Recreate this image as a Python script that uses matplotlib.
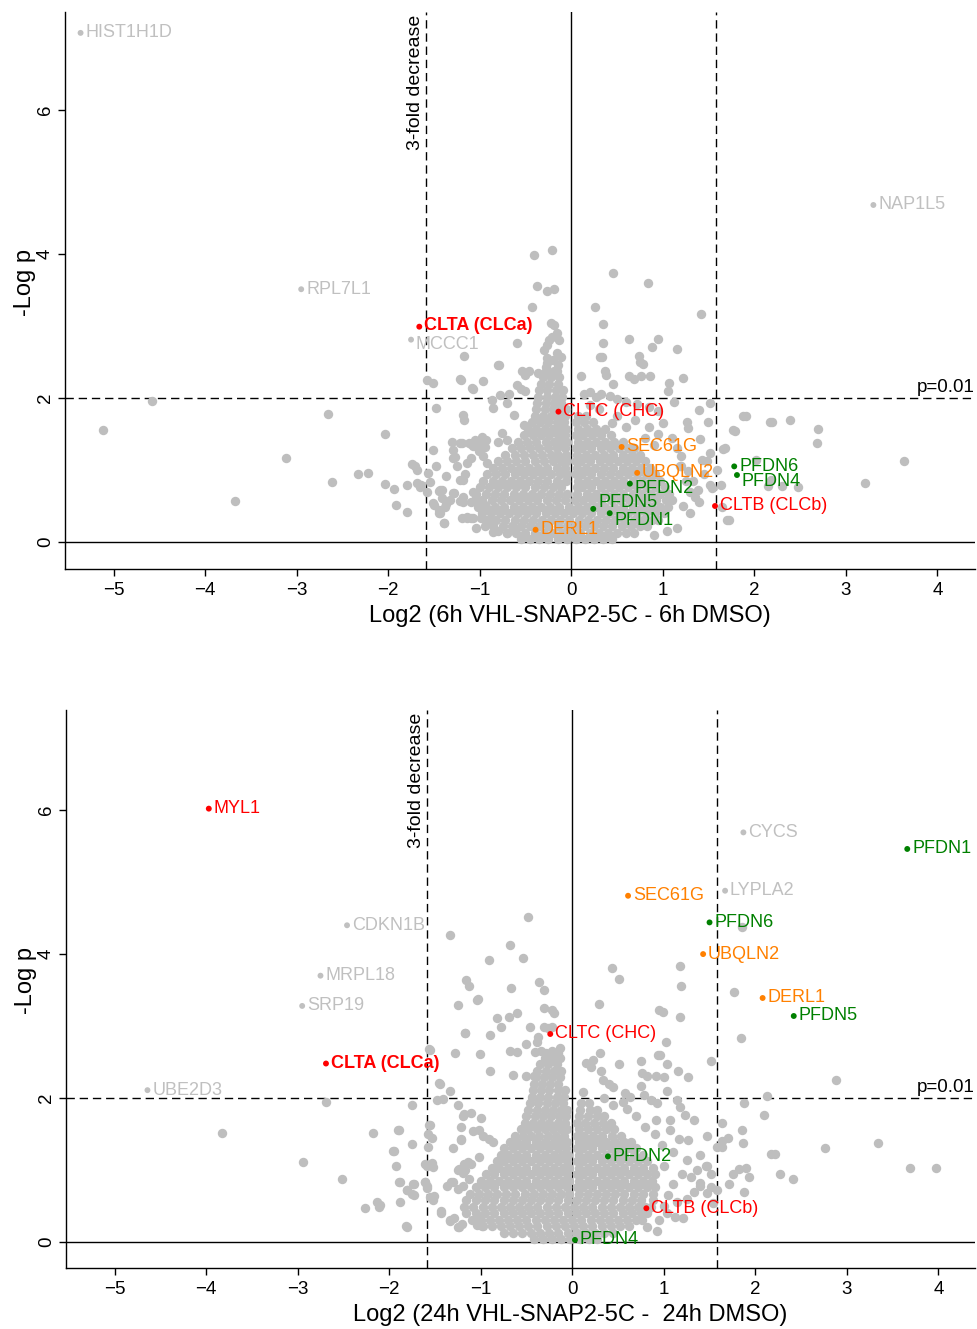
import matplotlib
matplotlib.use('Agg')
import matplotlib.pyplot as plt
import numpy as np

plt.rcParams['font.family'] = ['Liberation Sans', 'DejaVu Sans']

GRAY = '#bebebe'
LABEL_GRAY = '#c0c0c0'
COLMAP = {'gray': LABEL_GRAY, 'red': '#ff0000', 'orange': '#ff8000', 'green': '#008000'}

FOLD = np.log2(3)
P_LINE = -np.log10(0.01)

# ---------------- 6h panel data ----------------
top_cloud_y = [0.04, 0.13, 0.22, 0.31, 0.40, 0.49, 0.58, 0.67, 0.76, 0.85, 0.94, 1.03, 1.12,
               1.21, 1.30, 1.39, 1.48, 1.57, 1.66, 1.75, 1.84, 1.93, 2.02, 2.11, 2.20, 2.29, 2.38]
top_cloud_x = [
    [-0.55, -0.45, -0.35, -0.25, -0.15, -0.05, 0.05, 0.15, 0.25, 0.35, 0.45],
    [-0.7, -0.6, -0.5, -0.4, -0.3, -0.2, -0.1, 0.0, 0.1, 0.2, 0.3, 0.4, 0.5, 0.6, 0.68],
    [-0.85, -0.75, -0.65, -0.55, -0.45, -0.35, -0.25, -0.15, -0.05, 0.05, 0.15, 0.25, 0.35, 0.45, 0.55, 0.65, 0.75, 0.83],
    [-0.92, -0.82, -0.72, -0.62, -0.52, -0.42, -0.32, -0.22, -0.12, -0.02, 0.08, 0.18, 0.28, 0.38, 0.48, 0.58, 0.68, 0.78, 0.88, 0.95],
    [-0.98, -0.88, -0.78, -0.68, -0.58, -0.48, -0.38, -0.28, -0.18, -0.08, 0.02, 0.12, 0.22, 0.32, 0.42, 0.52, 0.62, 0.72, 0.82, 0.92, 1.01],
    [-1.02, -0.93, -0.83, -0.73, -0.63, -0.53, -0.43, -0.33, -0.23, -0.13, -0.03, 0.07, 0.17, 0.27, 0.37, 0.47, 0.57, 0.67, 0.77, 0.87, 0.97, 1.06],
    [-1.05, -0.97, -0.87, -0.77, -0.67, -0.57, -0.47, -0.37, -0.27, -0.17, -0.07, 0.04, 0.13, 0.23, 0.33, 0.43, 0.53, 0.63, 0.73, 0.83, 0.93, 1.03, 1.1],
    [-1.04, -0.93, -0.83, -0.73, -0.63, -0.53, -0.43, -0.33, -0.23, -0.13, -0.05, 0.06, 0.17, 0.27, 0.37, 0.47, 0.57, 0.67, 0.77, 0.87, 0.97, 1.07],
    [-1.0, -0.9, -0.8, -0.7, -0.6, -0.5, -0.4, -0.3, -0.2, -0.11, 0.06, 0.12, 0.22, 0.32, 0.42, 0.52, 0.62, 0.72, 0.82, 0.92, 1.02],
    [-0.96, -0.86, -0.76, -0.66, -0.56, -0.46, -0.36, -0.26, -0.16, -0.06, 0.07, 0.17, 0.27, 0.37, 0.47, 0.57, 0.67, 0.77, 0.87, 0.97],
    [-0.92, -0.82, -0.72, -0.62, -0.52, -0.42, -0.32, -0.22, -0.12, -0.05, 0.05, 0.12, 0.22, 0.32, 0.42, 0.52, 0.62, 0.72, 0.82, 0.92],
    [-0.86, -0.76, -0.66, -0.56, -0.46, -0.36, -0.26, -0.16, -0.07, 0.06, 0.16, 0.26, 0.36, 0.46, 0.56, 0.66, 0.76, 0.86],
    [-0.8, -0.7, -0.6, -0.5, -0.4, -0.3, -0.2, -0.11, -0.05, 0.05, 0.11, 0.21, 0.31, 0.41, 0.51, 0.61, 0.71, 0.8],
    [-0.72, -0.62, -0.52, -0.42, -0.32, -0.22, -0.14, -0.06, 0.06, 0.16, 0.26, 0.36, 0.46, 0.56, 0.66, 0.75],
    [-0.65, -0.55, -0.45, -0.35, -0.25, -0.16, -0.07, 0.05, 0.12, 0.22, 0.32, 0.42, 0.52, 0.62, 0.69],
    [-0.58, -0.48, -0.38, -0.28, -0.19, -0.11, -0.05, 0.07, 0.17, 0.27, 0.37, 0.47, 0.56],
    [-0.52, -0.42, -0.33, -0.24, -0.15, -0.07, 0.05, 0.13, 0.23, 0.33, 0.43],
    [-0.47, -0.38, -0.29, -0.2, -0.12, -0.06, 0.07, 0.17, 0.27, 0.37],
    [-0.43, -0.34, -0.25, -0.16, -0.08, 0.05, 0.14, 0.24],
    [-0.4, -0.31, -0.22, -0.14, -0.07, 0.07, 0.16],
    [-0.38, -0.29, -0.2, -0.12, -0.06],
    [-0.37, -0.28, -0.19, -0.11],
    [-0.36, -0.27, -0.18, -0.1],
    [-0.35, -0.26, -0.17, -0.09],
    [-0.33, -0.24, -0.15],
    [-0.31, -0.22, -0.13],
    [-0.28, -0.19],
]
top_scatter = [
    (-5.11, 1.56), (-4.58, 1.96), (-3.67, 0.57), (-3.12, 1.16), (-2.66, 1.78), (-2.61, 0.83), (-2.33, 0.94),
    (-2.22, 0.96), (-2.04, 1.50), (-2.04, 0.81), (-1.94, 0.73), (-1.91, 0.52), (-1.79, 0.42), (-1.79, 0.79),
    (-1.74, 1.09), (-1.71, 1.05), (-1.69, 0.82), (-1.65, 0.77), (-1.58, 2.25), (-1.51, 2.21), (-1.57, 0.96),
    (-1.58, 0.70), (-1.51, 1.28), (-1.48, 1.86), (-1.48, 1.05), (-1.51, 0.54), (-1.45, 0.71), (-1.41, 0.72),
    (-1.44, 0.45), (-1.43, 0.40), (-1.39, 0.27), (-1.37, 0.91), (-1.37, 0.53), (-1.30, 1.39), (-1.29, 1.28),
    (-1.29, 1.16), (-1.29, 0.68), (-1.32, 0.59), (-1.20, 2.25), (-1.17, 2.58), (-0.96, 2.23), (-1.07, 2.13),
    (-1.18, 1.76), (-1.17, 1.70), (-1.19, 1.37), (-1.12, 1.38), (-1.25, 1.05), (-1.14, 1.10), (-1.16, 0.95),
    (-1.18, 0.86), (-1.22, 0.86), (-1.07, 0.70), (-1.18, 0.62), (-1.18, 0.55), (-1.10, 0.55), (-1.19, 0.33),
    (-1.14, 0.33), (-1.07, 0.33), (-0.99, 0.34), (-0.94, 0.51), (-0.98, 1.46), (-0.93, 1.42), (-1.05, 1.41),
    (-1.01, 1.39), (-1.10, 1.36), (-1.07, 1.33), (-1.01, 1.26), (-0.86, 1.86), (-0.80, 2.46), (-0.85, 0.14),
    (-0.87, 0.28), (-0.41, 3.99), (-0.21, 4.06), (-0.37, 3.56), (-0.27, 3.49), (-0.19, 3.51), (-0.43, 3.26),
    (-0.59, 2.77), (-0.79, 2.46), (-1.21, 2.26), (-1.08, 2.14), (-0.78, 2.04), (-0.68, 2.05), (-0.59, 2.18),
    (-0.55, 2.12), (-0.46, 2.37), (-0.54, 2.37), (-0.50, 2.32), (-0.36, 2.35), (-0.28, 2.43), (-0.27, 2.48),
    (-0.30, 2.67), (-0.27, 2.74), (-0.24, 2.81), (-0.21, 2.85), (-0.19, 3.01), (-0.22, 3.04), (-0.16, 2.90),
    (-0.13, 2.81), (-0.11, 2.57), (-0.16, 2.62), (-0.20, 2.53), (-0.14, 2.46), (-0.16, 2.37), (-0.27, 2.55),
    (0.11, 2.30), (0.31, 2.57), (0.46, 3.73), (0.84, 3.59), (0.26, 3.26), (1.42, 3.17), (0.35, 3.03),
    (0.63, 2.82), (0.95, 2.82), (0.35, 2.76), (0.88, 2.71), (1.15, 2.68), (0.34, 2.57), (0.74, 2.58),
    (0.75, 2.50), (0.78, 2.47), (0.37, 2.37), (0.38, 2.32), (0.46, 2.19), (0.63, 2.30), (0.68, 2.27),
    (0.76, 2.30), (0.86, 2.30), (1.07, 2.21), (1.22, 2.28), (1.06, 2.09), (0.14, 2.05), (0.20, 2.08),
    (0.27, 2.02), (0.33, 2.06), (0.42, 2.03), (0.50, 1.98), (0.60, 1.95), (0.72, 1.92), (0.85, 1.88),
    (0.95, 1.82), (1.12, 1.95), (1.52, 1.93), (1.39, 1.83), (1.49, 1.67), (1.26, 1.67), (1.88, 1.75),
    (2.17, 1.66), (1.77, 1.55), (1.66, 1.29), (1.28, 1.58), (1.41, 1.43), (1.52, 1.23), (1.43, 1.14),
    (1.48, 1.12), (1.59, 1.00), (1.45, 0.95), (1.52, 0.79), (1.54, 0.75), (1.70, 0.31), (1.65, 0.49),
    (1.91, 1.75), (2.19, 1.67), (2.39, 1.69), (2.70, 1.57), (2.68, 1.37), (3.63, 1.12), (3.21, 0.82),
    (2.48, 0.77), (1.79, 1.54), (1.68, 1.30), (1.72, 0.30), (1.64, 0.79), (2.18, 0.86), (2.30, 0.78),
    (2.15, 0.78), (2.02, 1.14), (-1.21, 1.38), (-1.27, 1.18), (-0.94, 1.32), (-1.10, 1.16), (-0.96, 1.19),
    (-0.92, 1.10), (-0.80, 1.39), (-0.76, 1.51), (-0.70, 1.42), (-0.87, 1.97), (-0.70, 1.93), (-0.50, 2.09),
    (-0.63, 1.76), (-0.52, 1.63), (-1.69, 1.00), (-1.64, 0.79), (-1.54, 0.83), (-1.43, 0.72), (-1.41, 0.61),
    (-1.50, 0.51), (-1.38, 0.48), (-1.28, 0.68), (-1.21, 0.57), (-1.39, 0.26), (-1.14, 0.35), (-1.09, 0.33),
    (-1.04, 0.19), (-0.94, 0.22), (-0.80, 0.15), (-0.70, 0.13), (-0.61, 0.15), (-1.45, 0.40),
    (1.15, 1.30), (1.20, 1.05), (1.25, 0.85), (1.30, 0.70), (1.22, 0.50), (1.30, 0.40), (1.35, 0.62),
    (1.15, 0.20), (1.05, 0.15), (0.90, 0.10), (1.40, 0.55), (1.20, 1.20), (1.10, 1.45), (0.95, 1.50),
    (0.85, 1.60), (1.00, 1.65), (0.70, 1.70), (0.50, 1.75), (0.60, 1.60), (0.45, 1.65), (0.30, 1.85),
    (0.20, 1.90), (0.90, 1.35), (0.80, 1.45), (1.19, 1.05), (1.27, 0.98), (1.33, 0.85), (1.38, 0.72),
]
top_names = ['HIST1H1D', 'RPL7L1', 'NAP1L5', 'MCCC1', 'CLTA (CLCa)', 'CLTC (CHC)', 'SEC61G', 'UBQLN2',
             'PFDN2', 'PFDN6', 'PFDN4', 'CLTB (CLCb)', 'PFDN5', 'PFDN1', 'DERL1']
top_lx = [-5.36, -2.95, 3.30, -1.75, -1.66, -0.14, 0.55, 0.72, 0.64, 1.78, 1.81, 1.57, 0.24, 0.42, -0.39]
top_ly = [7.07, 3.51, 4.68, 2.81, 2.99, 1.81, 1.32, 0.96, 0.81, 1.05, 0.93, 0.50, 0.46, 0.40, 0.17]
top_lc = ['gray', 'gray', 'gray', 'gray', 'red', 'red', 'orange', 'orange', 'green', 'green', 'green',
          'red', 'green', 'green', 'orange']

# ---------------- 24h panel data ----------------
bot_cloud_y = [0.04, 0.13, 0.22, 0.31, 0.40, 0.49, 0.58, 0.67, 0.76, 0.85, 0.94, 1.03, 1.12, 1.21,
               1.30, 1.39, 1.48, 1.57, 1.66, 1.75, 1.84, 1.93, 2.02, 2.11, 2.20, 2.29, 2.38, 2.47, 2.56]
bot_cloud_x = [
    [-0.42, -0.32, -0.22, -0.12, -0.02, 0.08, 0.18, 0.27],
    [-0.75, -0.65, -0.55, -0.45, -0.35, -0.25, -0.15, -0.05, 0.05, 0.15, 0.25, 0.35, 0.45],
    [-0.98, -0.88, -0.78, -0.68, -0.58, -0.48, -0.38, -0.28, -0.18, -0.08, 0.02, 0.12, 0.22, 0.32, 0.42, 0.52, 0.62],
    [-1.1, -1.0, -0.9, -0.8, -0.7, -0.6, -0.5, -0.4, -0.3, -0.2, -0.1, 0.0, 0.1, 0.2, 0.3, 0.4, 0.5, 0.6, 0.7, 0.76],
    [-1.16, -1.05, -0.95, -0.85, -0.75, -0.65, -0.55, -0.45, -0.35, -0.25, -0.15, -0.05, 0.05, 0.15, 0.25, 0.35, 0.45, 0.55, 0.65, 0.75, 0.82],
    [-1.18, -1.08, -0.98, -0.88, -0.78, -0.68, -0.58, -0.48, -0.38, -0.28, -0.18, -0.08, 0.02, 0.12, 0.22, 0.32, 0.42, 0.52, 0.62, 0.72, 0.8, 0.86],
    [-1.16, -1.05, -0.95, -0.85, -0.75, -0.65, -0.55, -0.45, -0.35, -0.25, -0.15, -0.05, 0.05, 0.15, 0.25, 0.35, 0.45, 0.55, 0.65, 0.75, 0.88],
    [-1.12, -1.02, -0.92, -0.82, -0.72, -0.62, -0.52, -0.42, -0.32, -0.22, -0.12, -0.04, 0.07, 0.17, 0.27, 0.37, 0.47, 0.57, 0.67, 0.77, 0.88],
    [-1.05, -0.95, -0.85, -0.75, -0.65, -0.55, -0.45, -0.35, -0.25, -0.15, -0.06, 0.05, 0.12, 0.22, 0.32, 0.42, 0.52, 0.62, 0.72, 0.82, 0.9],
    [-1.0, -0.9, -0.8, -0.7, -0.6, -0.5, -0.4, -0.3, -0.2, -0.1, -0.04, 0.07, 0.17, 0.27, 0.37, 0.47, 0.57, 0.67, 0.77, 0.87],
    [-0.94, -0.85, -0.75, -0.65, -0.55, -0.45, -0.35, -0.25, -0.15, -0.06, 0.05, 0.12, 0.22, 0.32, 0.42, 0.52, 0.62, 0.72, 0.82, 0.9],
    [-0.88, -0.8, -0.7, -0.6, -0.5, -0.4, -0.3, -0.2, -0.1, -0.04, 0.07, 0.17, 0.27, 0.37, 0.47, 0.57, 0.67, 0.77, 0.88],
    [-0.82, -0.75, -0.65, -0.55, -0.45, -0.35, -0.25, -0.15, -0.06, 0.05, 0.12, 0.22, 0.32, 0.42, 0.52, 0.62, 0.72, 0.82],
    [-0.78, -0.7, -0.6, -0.5, -0.4, -0.3, -0.2, -0.11, -0.05, 0.07, 0.17, 0.27, 0.37, 0.47, 0.57, 0.67, 0.77],
    [-0.74, -0.65, -0.55, -0.45, -0.35, -0.25, -0.16, -0.07, 0.05, 0.12, 0.22, 0.32, 0.42, 0.52, 0.62, 0.7],
    [-0.68, -0.6, -0.5, -0.4, -0.3, -0.2, -0.12, -0.06, 0.07, 0.17, 0.27, 0.37, 0.47, 0.57, 0.64],
    [-0.62, -0.54, -0.45, -0.36, -0.27, -0.18, -0.09, 0.05, 0.13, 0.23, 0.33, 0.43, 0.53],
    [-0.56, -0.48, -0.39, -0.3, -0.21, -0.12, -0.06, 0.07, 0.17, 0.27, 0.37, 0.46],
    [-0.52, -0.43, -0.34, -0.25, -0.16, -0.08, 0.05, 0.14, 0.24, 0.34, 0.42],
    [-0.5, -0.41, -0.32, -0.23, -0.14, -0.07, 0.07, 0.17, 0.27, 0.35],
    [-0.48, -0.39, -0.3, -0.21, -0.12, -0.06, 0.09, 0.19, 0.27],
    [-0.46, -0.37, -0.28, -0.19, -0.1, 0.1, 0.18],
    [-0.44, -0.35, -0.26, -0.17, -0.09],
    [-0.43, -0.34, -0.25, -0.16, -0.08],
    [-0.42, -0.33, -0.24, -0.15],
    [-0.4, -0.31, -0.22, -0.13],
    [-0.38, -0.29, -0.2, -0.12],
    [-0.35, -0.26, -0.17],
    [-0.3, -0.21, -0.13],
]
bot_scatter = [
    (-3.83, 1.52), (-2.94, 1.11), (-2.52, 0.87), (-2.69, 1.95), (-2.26, 0.47), (-2.13, 0.55), (-2.11, 0.49),
    (-2.18, 1.52), (-1.90, 1.56), (-1.95, 1.27), (-1.92, 1.06), (-1.75, 1.36), (-1.75, 1.91), (-1.88, 0.84),
    (-1.80, 0.72), (-1.73, 0.80), (-1.73, 0.66), (-1.88, 0.55), (-1.82, 0.23), (-1.55, 2.67), (-1.44, 2.20),
    (-1.34, 2.10), (-1.28, 2.63), (-1.17, 2.91), (-1.01, 2.61), (-0.90, 2.87), (-0.90, 2.37), (-1.25, 3.29),
    (-1.04, 3.36), (-1.48, 1.97), (-1.41, 1.99), (-1.25, 1.91), (-1.55, 1.63), (-1.58, 1.50), (-1.53, 1.44),
    (-1.58, 1.32), (-1.61, 1.09), (-1.52, 1.04), (-1.61, 0.84), (-1.59, 0.75), (-1.51, 0.64), (-1.43, 0.43),
    (-1.37, 0.78), (-1.30, 0.84), (-1.33, 0.29), (-1.25, 0.21), (-1.20, 0.25), (-1.30, 1.31), (-1.22, 1.42),
    (-1.11, 1.79), (-1.18, 1.78), (-1.22, 1.60), (-1.08, 1.54), (-1.00, 1.72), (-1.11, 1.09), (-1.18, 1.09),
    (-1.17, 1.00), (-1.24, 1.02), (-1.02, 1.18), (-0.48, 4.51), (-1.33, 4.27), (-0.68, 4.12), (-0.91, 3.92),
    (-0.54, 3.94), (-1.16, 3.64), (-1.13, 3.56), (-0.67, 3.53), (-0.36, 3.61), (-0.31, 3.50), (-1.03, 3.38),
    (-0.31, 3.25), (-0.22, 3.22), (-0.20, 3.18), (-0.82, 3.11), (-0.78, 2.99), (-0.69, 3.12), (-0.60, 3.18),
    (-0.46, 2.99), (-0.31, 2.99), (-0.27, 2.97), (-0.22, 2.99), (-1.17, 2.91), (-0.51, 2.75), (-0.39, 2.78),
    (-0.37, 2.85), (-1.56, 2.68), (-0.68, 2.65), (-0.60, 2.64), (-0.41, 2.64), (-0.34, 2.66), (-0.29, 2.62),
    (-0.22, 2.65), (-0.15, 2.63), (-0.13, 2.70), (-0.65, 2.32), (-0.51, 2.30), (-0.42, 2.30), (-1.45, 2.21),
    (-1.19, 1.75), (-1.56, 1.63), (-1.89, 1.56), (-1.22, 1.43), (-1.02, 1.56), (-0.97, 1.48), (-0.91, 1.43),
    (-0.86, 1.39), (-1.96, 1.27), (-1.59, 1.05), (-1.53, 1.10), (-1.14, 1.11), (-1.25, 1.00), (-1.19, 0.96),
    (-1.89, 0.84), (-1.74, 0.81), (-1.75, 0.67), (-1.81, 0.72), (-1.61, 0.83), (-1.59, 0.78), (-1.32, 0.84),
    (-1.25, 0.74), (-1.19, 0.78), (-1.13, 0.87), (-2.10, 0.51), (-1.43, 0.40), (-1.55, 0.62), (-1.52, 0.59),
    (-1.81, 0.21), (-1.33, 0.31), (-1.29, 0.33), (-1.24, 0.21), (-1.04, 0.24), (-1.02, 0.33), (-0.99, 0.22),
    (0.44, 3.80), (0.51, 3.66), (1.18, 3.84), (1.19, 3.55), (1.77, 3.48), (0.29, 3.31), (0.95, 3.23),
    (0.99, 3.20), (1.18, 3.12), (1.84, 2.83), (1.02, 2.78), (1.52, 2.51), (0.30, 2.62), (0.51, 2.47),
    (0.75, 2.52), (0.94, 2.60), (0.96, 2.60), (1.04, 2.48), (1.16, 2.37), (1.26, 2.29), (0.15, 2.49),
    (0.23, 2.53), (0.20, 2.43), (0.31, 2.38), (0.34, 2.25), (0.40, 2.20), (0.45, 2.16), (0.76, 2.35),
    (0.82, 2.30), (0.91, 2.30), (1.00, 2.29), (0.12, 2.09), (1.04, 2.10), (0.58, 2.07), (0.63, 2.02),
    (0.75, 2.17), (0.78, 2.04), (0.86, 1.97), (0.93, 1.93), (1.14, 1.97), (1.18, 1.88), (0.92, 1.69),
    (1.07, 1.69), (1.23, 1.77), (1.33, 1.70), (1.47, 1.47), (1.58, 1.32), (1.64, 1.40), (1.27, 1.42),
    (1.17, 1.43), (1.07, 1.55), (1.46, 1.06), (1.36, 1.00), (1.25, 1.14), (1.76, 0.95), (1.33, 0.70),
    (1.40, 0.78), (1.58, 0.72), (1.71, 0.81), (0.82, 0.21), (1.03, 0.40), (1.21, 0.33),
    (1.85, 4.37), (2.88, 2.25), (1.88, 1.93), (2.13, 2.03), (2.10, 1.77), (1.64, 1.66), (1.85, 1.56),
    (1.70, 1.44), (1.87, 1.38), (1.64, 1.32), (2.76, 1.31), (3.34, 1.38), (2.17, 1.23), (2.21, 1.23),
    (1.47, 1.05), (1.52, 0.95), (1.82, 1.01), (1.90, 1.03), (1.93, 0.90), (2.27, 0.94), (2.41, 0.88),
    (3.69, 1.03), (3.97, 1.03), (1.47, 0.68), (1.52, 0.76), (1.88, 0.70), (1.54, 0.54), (1.40, 1.21),
    (1.40, 0.82), (0.95, 0.30), (1.00, 0.50), (1.05, 0.65), (1.10, 0.80), (1.15, 0.55), (1.20, 0.95),
    (1.00, 1.05), (1.10, 1.25), (0.98, 1.35), (0.90, 1.50), (0.80, 1.60), (0.70, 1.75), (0.60, 1.85),
    (0.55, 1.95), (0.45, 1.90), (0.35, 2.00), (1.30, 0.90), (1.25, 0.60), (1.12, 0.35), (0.93, 0.15),
]
bot_names = ['MYL1', 'CDKN1B', 'MRPL18', 'SRP19', 'CLTA (CLCa)', 'UBE2D3', 'CYCS', 'PFDN1', 'LYPLA2',
             'SEC61G', 'PFDN6', 'UBQLN2', 'DERL1', 'PFDN5', 'CLTC (CHC)', 'PFDN2', 'CLTB (CLCb)', 'PFDN4']
bot_lx = [-3.97, -2.46, -2.75, -2.95, -2.69, -4.64, 1.87, 3.66, 1.67, 0.61, 1.50, 1.43, 2.08, 2.42,
          -0.24, 0.39, 0.81, 0.03]
bot_ly = [6.02, 4.40, 3.70, 3.28, 2.48, 2.11, 5.69, 5.46, 4.88, 4.81, 4.44, 4.00, 3.39, 3.14, 2.89,
          1.19, 0.47, 0.03]
bot_lc = ['red', 'gray', 'gray', 'gray', 'red', 'gray', 'gray', 'green', 'gray', 'orange', 'green',
          'orange', 'orange', 'green', 'red', 'green', 'red', 'green']

BOLD = {'CLTA (CLCa)'}
# vertical nudges of some label texts (pixels, positive = downwards)
TOP_NUDGE = {'PFDN4': 6, 'PFDN2': 5, 'PFDN1': 7, 'PFDN5': -6, 'MCCC1': 5, 'CLTA (CLCa)': -1}
BOT_NUDGE = {}


def draw_panel(ax, cloud_y, cloud_x, scatter, names, lx, ly, lc, nudge, xlabel, xlim, ylim):
    xs, ys = [], []
    for yv, row in zip(cloud_y, cloud_x):
        for xv in row:
            xs.append(xv)
            ys.append(yv)
    for (xv, yv) in scatter:
        xs.append(xv)
        ys.append(yv)
    ax.scatter(xs, ys, s=46, c=GRAY, linewidths=0, zorder=2)

    ax.axhline(0, color='black', lw=1.0, zorder=1)
    ax.axvline(0, color='black', lw=1.0, zorder=1)
    ax.axhline(P_LINE, color='black', lw=1.0, ls=(0, (6, 3.5)), zorder=1)
    ax.axvline(-FOLD, color='black', lw=1.0, ls=(0, (6, 3.5)), zorder=1)
    ax.axvline(FOLD, color='black', lw=1.0, ls=(0, (6, 3.5)), zorder=1)

    cols = [COLMAP[c] for c in lc]
    ax.scatter(lx, ly, s=18, c=cols, linewidths=0, zorder=4)
    for n, x, y, c in zip(names, lx, ly, cols):
        dy = -0.72 * nudge.get(n, 0)
        ax.annotate(n, (x, y), xytext=(3.5, dy), textcoords='offset points', ha='left', va='center',
                    color=c, fontsize=13, fontweight='bold' if n in BOLD else 'normal', zorder=5)

    ax.annotate('3-fold decrease', xy=(-FOLD, 1.0), xycoords=('data', 'axes fraction'),
                xytext=(-1.5, -2), textcoords='offset points', rotation=90, ha='right', va='top',
                fontsize=14, color='black')
    ax.annotate('p=0.01', xy=(1.0, P_LINE), xycoords=('axes fraction', 'data'),
                xytext=(0, 1.5), textcoords='offset points', ha='right', va='bottom',
                fontsize=13.5, color='black')

    ax.set_xlim(*xlim)
    ax.set_ylim(*ylim)
    ax.set_xticks([-5, -4, -3, -2, -1, 0, 1, 2, 3, 4])
    ax.set_yticks([0, 2, 4, 6])
    ax.tick_params(axis='both', direction='out', length=5, width=1, labelsize=13.5, pad=4)
    ax.tick_params(axis='y', pad=3)
    for lab in ax.get_yticklabels():
        lab.set_rotation(90)
        lab.set_va('center')
    for s in ['top', 'right']:
        ax.spines[s].set_visible(False)
    for s in ['left', 'bottom']:
        ax.spines[s].set_linewidth(1.0)
    ax.set_xlabel(xlabel, fontsize=17)
    ax.xaxis.set_label_coords(0.555, -0.064)
    ax.text(-0.044, 0.515, '-Log p', rotation=90, ha='center', va='center', fontsize=17,
            transform=ax.transAxes)


fig = plt.figure(figsize=(9.78, 13.29), dpi=100)
ax1 = fig.add_axes([65 / 978, 1 - 569 / 1329, 910 / 978, 557 / 1329])
ax2 = fig.add_axes([66 / 978, 1 - 1268 / 1329, 909 / 978, 558 / 1329])

draw_panel(ax1, top_cloud_y, top_cloud_x, top_scatter, top_names, top_lx, top_ly, top_lc, TOP_NUDGE,
           'Log2 (6h VHL-SNAP2-5C - 6h DMSO)', (-5.53, 4.41), (-0.375, 7.36))
draw_panel(ax2, bot_cloud_y, bot_cloud_x, bot_scatter, bot_names, bot_lx, bot_ly, bot_lc, BOT_NUDGE,
           'Log2 (24h VHL-SNAP2-5C -  24h DMSO)', (-5.53, 4.40), (-0.36, 7.39))

fig.savefig('out.png', dpi=100)
